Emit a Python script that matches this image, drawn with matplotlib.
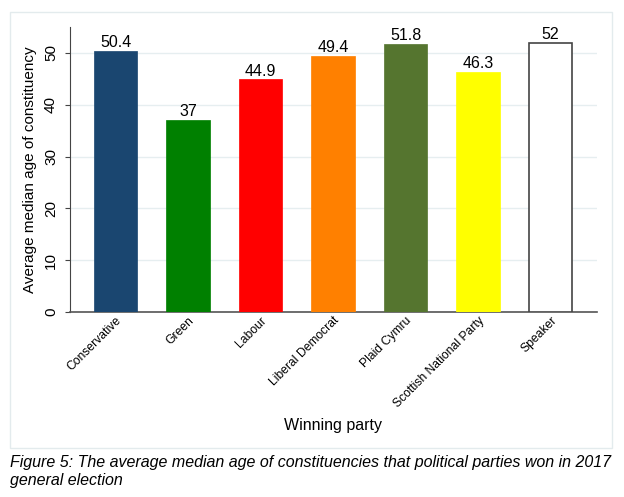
import numpy as np
import matplotlib.pyplot as plt
from matplotlib.patches import Rectangle

plt.rcParams['font.family'] = ['Liberation Sans', 'DejaVu Sans']

# data
parties = ["Conservative", "Green", "Labour", "Liberal Democrat",
           "Plaid Cymru", "Scottish National Party", "Speaker"]
ages = [50.4, 37, 44.9, 49.4, 51.8, 46.3, 52]
labels = ["50.4", "37", "44.9", "49.4", "51.8", "46.3", "52"]
colours = ["#1a4670", "#008000", "#ff0000", "#ff8000",
           "#55752f", "#ffff00", "#ffffff"]
yticks = [0, 10, 20, 30, 40, 50]

fig = plt.figure(figsize=(6.24, 4.97), dpi=100)
ax = fig.add_axes([0.1122, 0.3722, 0.8445, 0.5735])

# outer graph box
fig.patches.append(Rectangle((10/624, 1-448/497), 602/624, 436/497,
                             transform=fig.transFigure, fill=False,
                             edgecolor="#e3ebed", linewidth=1))

x = np.arange(len(parties))
for i in range(len(parties)):
    ec = "#444444" if colours[i] == "#ffffff" else colours[i]
    ax.bar(x[i], ages[i], width=0.6, color=colours[i], edgecolor=ec,
           linewidth=1.2 if colours[i] == "#ffffff" else 0.5, zorder=3)
    ax.text(x[i], ages[i] + 0.15, labels[i], ha="center", va="bottom",
            fontsize=11.5, zorder=4)

ax.set_xlim(-0.63, 6.64)
ax.set_ylim(0, 55)
ax.set_yticks(yticks)
ax.set_yticklabels([str(t) for t in yticks], rotation=90, va="center",
                   fontsize=11)
ax.set_xticks(x)
ax.set_xticklabels(parties, rotation=45, ha="right", rotation_mode="anchor",
                   fontsize=8.7)
ax.tick_params(axis="x", length=0, pad=2)
ax.tick_params(axis="y", length=3.6, pad=5, color="#444444")
ax.yaxis.grid(True, color="#e6eef0", linewidth=1, zorder=0)
ax.set_axisbelow(True)

for s in ["top", "right"]:
    ax.spines[s].set_visible(False)
ax.spines["left"].set_color("#444444")
ax.spines["bottom"].set_color("#555555")
ax.spines["bottom"].set_linewidth(1.2)

ax.set_ylabel("Average median age of constituency", fontsize=11, labelpad=5)
ax.set_xlabel("Winning party", fontsize=11.5, labelpad=6)

fig.text(10/624, 1-471/497,
         "Figure 5: The average median age of constituencies that political parties won in 2017\ngeneral election",
         fontsize=11.5, style="italic", ha="left", va="center",
         linespacing=1.25)

fig.savefig("out.png", dpi=100)
